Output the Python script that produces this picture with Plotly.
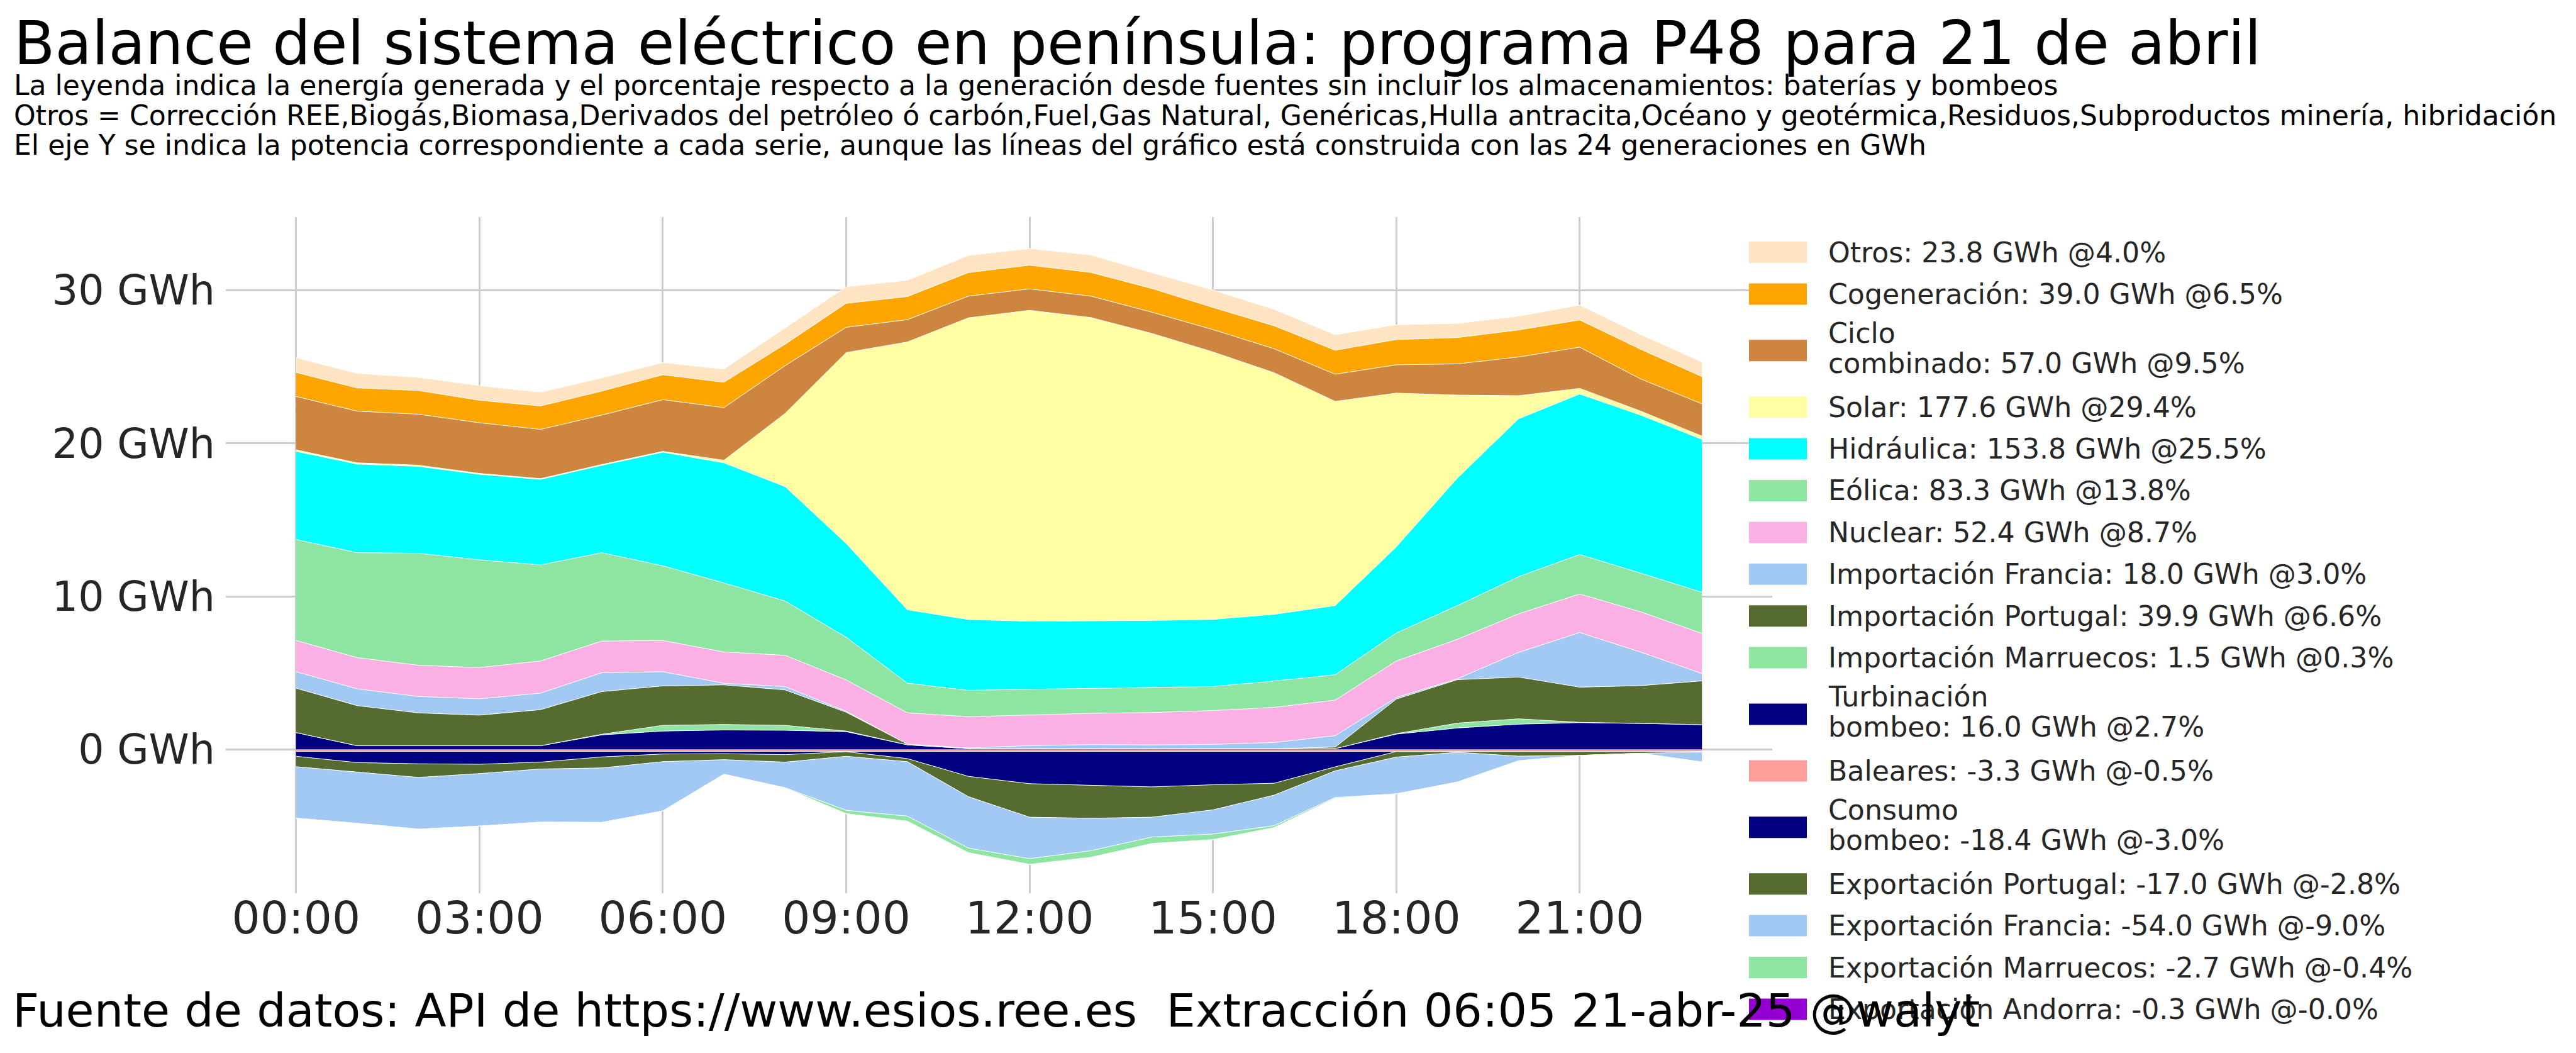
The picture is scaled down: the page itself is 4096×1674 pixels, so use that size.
import plotly.graph_objects as go

# ---------------- data (GWh per hour) ----------------
hours = list(range(24))
tick_hours = [0, 3, 6, 9, 12, 15, 18, 21]
tick_labels = ["00:00", "03:00", "06:00", "09:00", "12:00", "15:00", "18:00", "21:00"]
y_ticks = [0, 10, 20, 30]
y_tick_labels = ["0 GWh", "10 GWh", "20 GWh", "30 GWh"]

otros = [0.96, 0.95, 0.86, 0.96, 0.90, 0.86, 0.80, 0.86, 1.07, 1.08, 1.07, 1.12,
         1.09, 1.14, 1.03, 1.14, 1.08, 1.01, 0.97, 0.93, 0.90, 0.97, 0.97, 0.95]
cogeneracion = [1.57, 1.52, 1.55, 1.47, 1.53, 1.57, 1.63, 1.66, 1.40, 1.57, 1.51, 1.54,
                1.55, 1.55, 1.55, 1.45, 1.50, 1.57, 1.65, 1.72, 1.77, 1.78, 1.94, 1.78]
ciclo = [3.49, 3.38, 3.33, 3.31, 3.22, 3.23, 3.38, 3.44, 3.12, 1.65, 1.46, 1.42,
         1.40, 1.40, 1.39, 1.46, 1.57, 1.77, 1.85, 2.04, 2.53, 2.69, 2.10, 2.11]
solar = [0.10, 0.08, 0.08, 0.06, 0.05, 0.05, 0.05, 0.17, 4.78, 12.48, 17.50, 19.72,
         20.32, 19.83, 18.76, 17.48, 15.79, 13.35, 10.05, 5.42, 1.51, 0.37, 0.26, 0.21]
hidraulica = [5.76, 5.79, 5.68, 5.59, 5.59, 5.71, 7.43, 7.85, 7.48, 6.13, 4.80, 4.63,
              4.45, 4.41, 4.36, 4.39, 4.36, 4.52, 5.63, 8.34, 10.32, 10.49, 10.33, 10.00]
eolica = [6.60, 6.86, 7.32, 7.04, 6.28, 5.78, 4.88, 4.51, 3.55, 2.79, 1.94, 1.72,
          1.68, 1.63, 1.66, 1.57, 1.72, 1.66, 1.83, 2.20, 2.43, 2.58, 2.53, 2.69]
nuclear = [2.04, 2.04, 2.04, 2.04, 2.10, 2.07, 2.04, 2.05, 2.04, 2.05, 2.04, 2.04,
           2.00, 2.04, 2.11, 2.21, 2.30, 2.32, 2.39, 2.58, 2.52, 2.52, 2.63, 2.62]
imp_francia = [1.08, 1.10, 1.07, 1.07, 1.08, 1.23, 0.93, 0.10, 0.22, 0.06, 0.00, 0.05,
               0.20, 0.27, 0.25, 0.28, 0.40, 0.75, 0.10, 0.06, 1.61, 3.57, 2.19, 0.48]
imp_portugal = [2.90, 2.62, 2.15, 2.00, 2.36, 2.79, 2.58, 2.59, 2.32, 1.23, 0.05, 0.00,
                0.00, 0.00, 0.00, 0.00, 0.00, 0.10, 2.26, 2.84, 2.73, 2.30, 2.47, 2.86]
imp_marruecos = [0.00, 0.00, 0.00, 0.00, 0.00, 0.04, 0.37, 0.36, 0.32, 0.04, 0.00, 0.00,
                 0.00, 0.00, 0.00, 0.00, 0.00, 0.00, 0.03, 0.32, 0.35, 0.02, 0.00, 0.00]
turbinacion = [1.10, 0.24, 0.24, 0.24, 0.24, 0.95, 1.20, 1.27, 1.25, 1.16, 0.30, 0.05,
               0.05, 0.05, 0.05, 0.05, 0.05, 0.05, 1.00, 1.40, 1.65, 1.75, 1.70, 1.62]

baleares = [-0.13, -0.13, -0.14, -0.14, -0.14, -0.14, -0.14, -0.14, -0.13, -0.13, -0.14, -0.14,
            -0.14, -0.14, -0.14, -0.14, -0.14, -0.14, -0.14, -0.14, -0.14, -0.14, -0.13, -0.13]
consumo_bombeo = [-0.32, -0.73, -0.80, -0.83, -0.69, -0.35, -0.16, -0.14, -0.21, -0.02, -0.46, -1.62,
                  -2.10, -2.21, -2.31, -2.17, -2.07, -1.00, 0.00, 0.00, 0.00, 0.00, 0.00, 0.00]
exp_portugal = [-0.68, -0.62, -0.89, -0.61, -0.45, -0.72, -0.50, -0.39, -0.49, -0.30, -0.20, -1.33,
                -2.19, -2.15, -1.98, -1.64, -0.78, -0.26, -0.36, -0.05, -0.30, -0.25, -0.12, -0.05]
exp_francia = [-3.36, -3.35, -3.38, -3.43, -3.47, -3.56, -3.22, -0.95, -1.67, -3.53, -3.56, -3.36,
               -2.71, -2.12, -1.30, -1.58, -1.99, -1.74, -2.40, -1.94, -0.30, 0.00, 0.00, -0.64]
exp_marruecos = [0.00, 0.00, 0.00, 0.00, 0.00, 0.00, 0.00, 0.00, -0.02, -0.22, -0.33, -0.30,
                 -0.37, -0.43, -0.42, -0.36, -0.13, -0.05, 0.00, 0.00, 0.00, 0.00, 0.00, 0.00]
exp_andorra = [-0.01, -0.01, -0.01, -0.01, -0.01, -0.01, -0.01, -0.01, -0.01, -0.01, -0.01, -0.01,
               -0.015, -0.015, -0.015, -0.015, -0.015, -0.015, -0.015, -0.015, -0.015, -0.015, -0.015, -0.015]

# legend texts (name, total GWh, percentage) as printed in the reference
legend_names = ["Otros", "Cogeneración", "Ciclo combinado", "Solar", "Hidráulica", "Eólica",
                "Nuclear", "Importación Francia", "Importación Portugal", "Importación Marruecos",
                "Turbinación bombeo", "Baleares", "Consumo bombeo", "Exportación Portugal",
                "Exportación Francia", "Exportación Marruecos", "Exportación Andorra"]
legend_totals = [23.8, 39.0, 57.0, 177.6, 153.8, 83.3, 52.4, 18.0, 39.9, 1.5, 16.0,
                 -3.3, -18.4, -17.0, -54.0, -2.7, -0.3]
legend_pct = [4.0, 6.5, 9.5, 29.4, 25.5, 13.8, 8.7, 3.0, 6.6, 0.3, 2.7,
              -0.5, -3.0, -2.8, -9.0, -0.4, -0.0]
wrapped_names = {"Ciclo combinado", "Turbinación bombeo", "Consumo bombeo"}

colors = {
    "Otros": "#ffe4c4", "Cogeneración": "#ffa500", "Ciclo combinado": "#cd853f",
    "Solar": "#fffea3", "Hidráulica": "#00ffff", "Eólica": "#8de5a1", "Nuclear": "#fab0e4",
    "Importación Francia": "#a1c9f4", "Importación Portugal": "#556b2f",
    "Importación Marruecos": "#8de5a1", "Turbinación bombeo": "#000080",
    "Baleares": "#ff9f9b", "Consumo bombeo": "#000080", "Exportación Portugal": "#556b2f",
    "Exportación Francia": "#a1c9f4", "Exportación Marruecos": "#8de5a1",
    "Exportación Andorra": "#9400d3",
}

# stacking order (from zero outwards)
positive_stack = [("Turbinación bombeo", turbinacion), ("Importación Marruecos", imp_marruecos),
                  ("Importación Portugal", imp_portugal), ("Importación Francia", imp_francia),
                  ("Nuclear", nuclear), ("Eólica", eolica), ("Hidráulica", hidraulica),
                  ("Solar", solar), ("Ciclo combinado", ciclo), ("Cogeneración", cogeneracion),
                  ("Otros", otros)]
negative_stack = [("Baleares", baleares), ("Consumo bombeo", consumo_bombeo),
                  ("Exportación Portugal", exp_portugal), ("Exportación Francia", exp_francia),
                  ("Exportación Marruecos", exp_marruecos), ("Exportación Andorra", exp_andorra)]

title = "Balance del sistema eléctrico en península: programa P48 para 21 de abril"
subtitle_lines = [
    "La leyenda indica la energía generada y el porcentaje respecto a la generación desde fuentes sin incluir los almacenamientos: baterías y bombeos",
    "Otros = Corrección REE,Biogás,Biomasa,Derivados del petróleo ó carbón,Fuel,Gas Natural, Genéricas,Hulla antracita,Océano y geotérmica,Residuos,Subproductos minería, hibridación",
    "El eje Y se indica la potencia correspondiente a cada serie, aunque las líneas del gráfico está construida con las 24 generaciones en GWh",
]
footer = "Fuente de datos: API de https://www.esios.ree.es  Extracción 06:05 21-abr-25 @walyt"

# ---------------- layout geometry (pixels) ----------------
W, H = 4096, 1674
PL, PR, PT, PB = 359, 2818, 345, 1420
FONT = "DejaVu Sans"
TXT = "#262626"


def px(x):
    return (x - PL) / (PR - PL)


def py(y):
    return (PB - y) / (PB - PT)


fig = go.Figure()
for name, vals in positive_stack:
    fig.add_trace(go.Scatter(x=hours, y=vals, name=name, stackgroup="pos", mode="lines",
                             line=dict(width=1, color="white"), fillcolor=colors[name],
                             showlegend=False))
for name, vals in negative_stack:
    fig.add_trace(go.Scatter(x=hours, y=vals, name=name, stackgroup="neg", mode="lines",
                             line=dict(width=1, color="white"), fillcolor=colors[name],
                             showlegend=False))

annotations = []
shapes = []

# title / subtitle
annotations.append(dict(text=title, x=px(20), y=py(69), xref="paper", yref="paper",
                        xanchor="left", yanchor="middle", showarrow=False,
                        font=dict(family=FONT, size=95.5, color="black")))
for i, line in enumerate(subtitle_lines):
    annotations.append(dict(text=line, x=px(20), y=py(136 + 47 * i), xref="paper", yref="paper",
                            xanchor="left", yanchor="middle", showarrow=False,
                            font=dict(family=FONT, size=44.1, color="black")))

# legend (drawn manually to get matplotlib-like patches)
single_h, double_h = 66.4, 113.4
center = 401.0
prev_h = None
for name, tot, pct in zip(legend_names, legend_totals, legend_pct):
    h = double_h if name in wrapped_names else single_h
    if prev_h is not None:
        center += (prev_h + h) / 2
    prev_h = h
    shapes.append(dict(type="rect", xref="paper", yref="paper",
                       x0=px(2781), x1=px(2873), y0=py(center + 17), y1=py(center - 17),
                       fillcolor=colors[name], line=dict(width=0), layer="above"))
    label = f"{name}: {tot:.1f} GWh @{pct:.1f}%"
    if name in wrapped_names:
        first, rest = label.split(" ", 1)
        lines = [(first, center - 28), (rest, center + 20)]
    else:
        lines = [(label, center)]
    for txt, yc in lines:
        annotations.append(dict(text=txt, x=px(2905), y=py(yc), xref="paper", yref="paper",
                                xanchor="left", yanchor="middle", showarrow=False,
                                font=dict(family=FONT, size=44.2, color=TXT)))

annotations.append(dict(text=footer, x=px(18), y=py(1606), xref="paper", yref="paper",
                        xanchor="left", yanchor="middle", showarrow=False,
                        font=dict(family=FONT, size=73.3, color="black")))

fig.update_layout(
    width=W, height=H,
    margin=dict(l=PL, r=W - PR, t=PT, b=H - PB, pad=0),
    paper_bgcolor="white", plot_bgcolor="white",
    showlegend=False,
    annotations=annotations, shapes=shapes,
    xaxis=dict(range=[-1.15, 24.15], tickvals=tick_hours, ticktext=tick_labels,
               showgrid=True, gridcolor="#cccccc", gridwidth=2.5, zeroline=False,
               showline=False, ticks="", ticklabelstandoff=-8,
               tickfont=dict(family=FONT, size=71, color=TXT)),
    yaxis=dict(range=[-9.4, 34.8], tickvals=y_ticks, ticktext=y_tick_labels,
               showgrid=True, gridcolor="#cccccc", gridwidth=2.5, zeroline=False,
               showline=False, ticks="", ticklabelstandoff=16,
               tickfont=dict(family=FONT, size=65, color=TXT)),
)

fig.write_html("out.html")
